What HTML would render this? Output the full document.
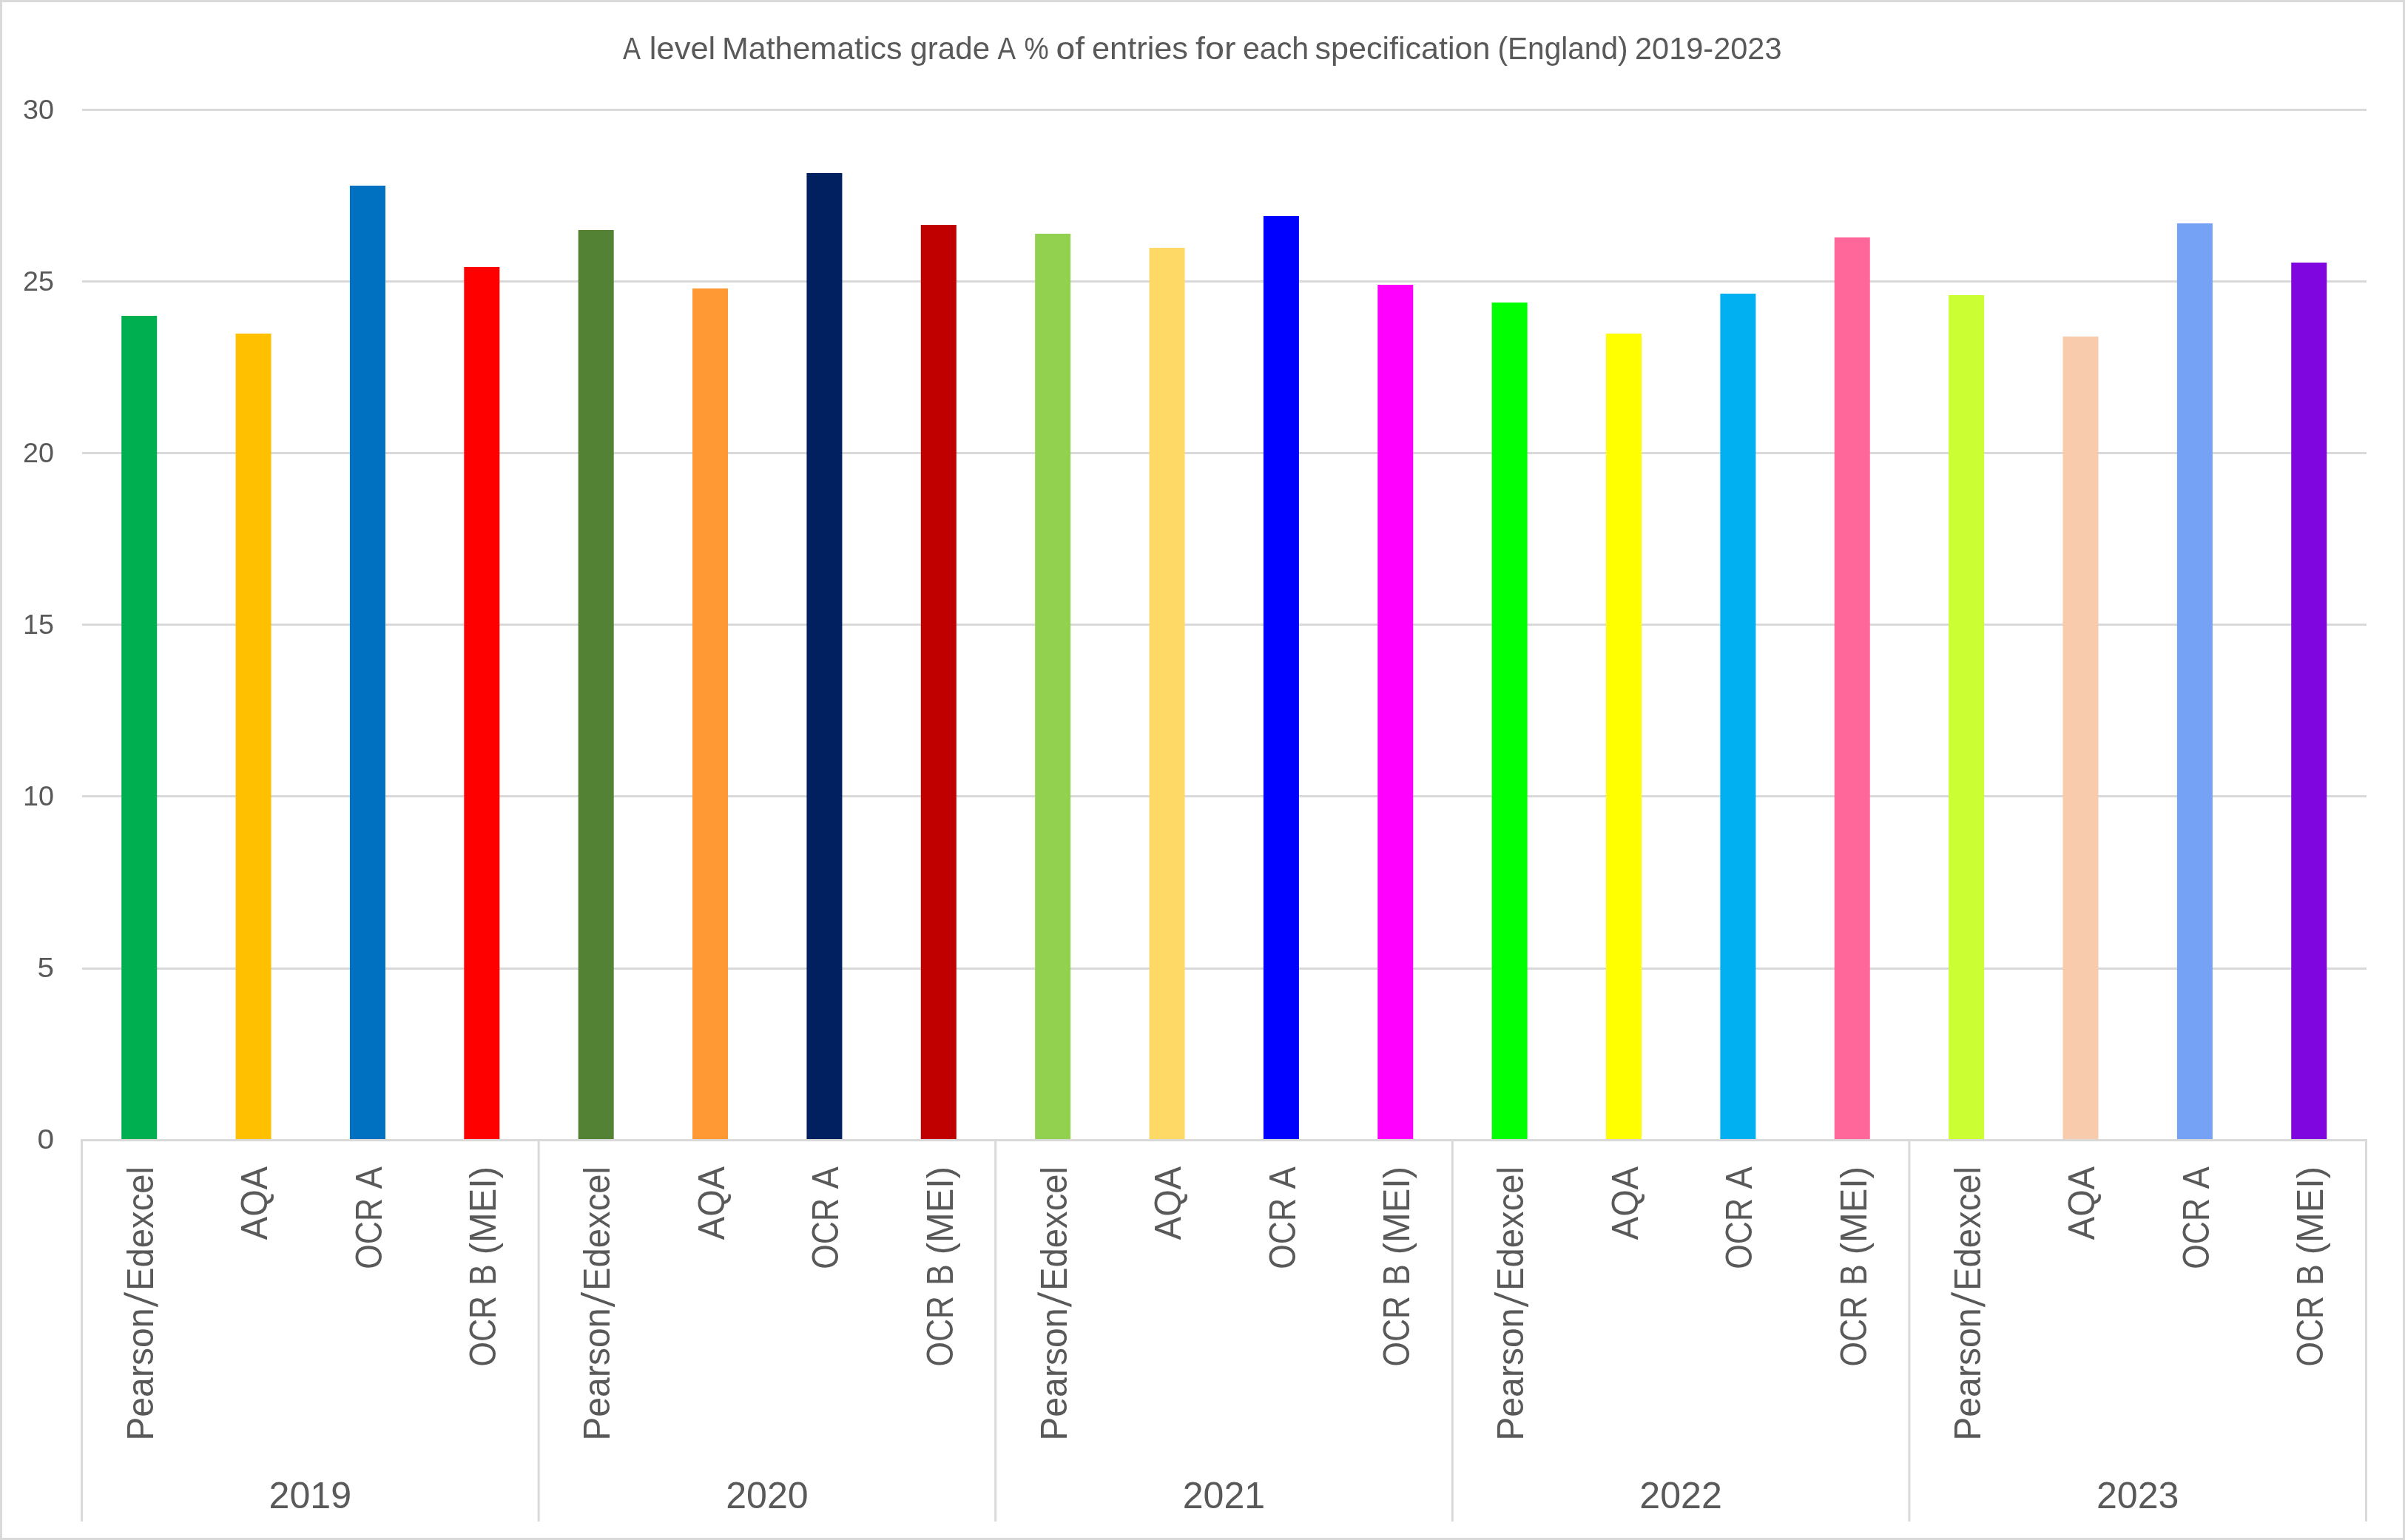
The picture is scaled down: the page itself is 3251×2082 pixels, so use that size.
<!DOCTYPE html><html><head><meta charset="utf-8"><style>html,body{margin:0;padding:0;background:#fff;overflow:hidden}svg{display:block;will-change:transform}text{font-family:"Liberation Sans",sans-serif;fill:#595959}</style></head><body>
<svg width="3251" height="2082" viewBox="0 0 3251 2082">
<rect x="0" y="0" width="3251" height="2082" fill="#fff"/>
<rect x="1.5" y="1.5" width="3248" height="2079" fill="none" stroke="#D9D9D9" stroke-width="3"/>
<rect x="111" y="147" width="3088" height="3" fill="#D9D9D9"/>
<rect x="111" y="379" width="3088" height="3" fill="#D9D9D9"/>
<rect x="111" y="611" width="3088" height="3" fill="#D9D9D9"/>
<rect x="111" y="843" width="3088" height="3" fill="#D9D9D9"/>
<rect x="111" y="1075" width="3088" height="3" fill="#D9D9D9"/>
<rect x="111" y="1308" width="3088" height="3" fill="#D9D9D9"/>
<rect x="164.20" y="427" width="48" height="1114" fill="#00B050"/>
<rect x="318.57" y="451" width="48" height="1090" fill="#FFC000"/>
<rect x="472.94" y="251" width="48" height="1290" fill="#0070C0"/>
<rect x="627.31" y="361" width="48" height="1180" fill="#FF0000"/>
<rect x="781.68" y="311" width="48" height="1230" fill="#548235"/>
<rect x="936.05" y="390" width="48" height="1151" fill="#FF9933"/>
<rect x="1090.42" y="234" width="48" height="1307" fill="#002060"/>
<rect x="1244.79" y="304" width="48" height="1237" fill="#C00000"/>
<rect x="1399.16" y="316" width="48" height="1225" fill="#92D050"/>
<rect x="1553.53" y="335" width="48" height="1206" fill="#FFD966"/>
<rect x="1707.90" y="292" width="48" height="1249" fill="#0000FF"/>
<rect x="1862.27" y="385" width="48" height="1156" fill="#FF00FF"/>
<rect x="2016.64" y="409" width="48" height="1132" fill="#00FF00"/>
<rect x="2171.01" y="451" width="48" height="1090" fill="#FFFF00"/>
<rect x="2325.38" y="397" width="48" height="1144" fill="#00B0F0"/>
<rect x="2479.75" y="321" width="48" height="1220" fill="#FF6699"/>
<rect x="2634.12" y="399" width="48" height="1142" fill="#CCFF33"/>
<rect x="2788.49" y="455" width="48" height="1086" fill="#F8CBAD"/>
<rect x="2942.86" y="302" width="48" height="1239" fill="#76A2F5"/>
<rect x="3097.23" y="355" width="48" height="1186" fill="#8006E0"/>
<rect x="109" y="1540" width="3091" height="3" fill="#D9D9D9"/>
<rect x="109.00" y="1540" width="3" height="517" fill="#D9D9D9"/>
<rect x="726.60" y="1540" width="3" height="517" fill="#D9D9D9"/>
<rect x="1344.20" y="1540" width="3" height="517" fill="#D9D9D9"/>
<rect x="1961.80" y="1540" width="3" height="517" fill="#D9D9D9"/>
<rect x="2579.40" y="1540" width="3" height="517" fill="#D9D9D9"/>
<rect x="3197.00" y="1540" width="3" height="517" fill="#D9D9D9"/>
<text x="842.00" y="79.9" font-size="42.4" textLength="24.02" lengthAdjust="spacingAndGlyphs">A</text>
<text x="877.83" y="79.9" font-size="42.4" textLength="89.39" lengthAdjust="spacingAndGlyphs">level</text>
<text x="975.95" y="79.9" font-size="42.4" textLength="243.58" lengthAdjust="spacingAndGlyphs">Mathematics</text>
<text x="1230.46" y="79.9" font-size="42.4" textLength="107.61" lengthAdjust="spacingAndGlyphs">grade</text>
<text x="1348.46" y="79.9" font-size="42.4" textLength="24.58" lengthAdjust="spacingAndGlyphs">A</text>
<text x="1384.39" y="79.9" font-size="42.4" textLength="33.24" lengthAdjust="spacingAndGlyphs">&#37;</text>
<text x="1427.41" y="79.9" font-size="42.4" textLength="38.63" lengthAdjust="spacingAndGlyphs">of</text>
<text x="1475.96" y="79.9" font-size="42.4" textLength="130.07" lengthAdjust="spacingAndGlyphs">entries</text>
<text x="1615.99" y="79.9" font-size="42.4" textLength="54.52" lengthAdjust="spacingAndGlyphs">for</text>
<text x="1679.88" y="79.9" font-size="42.4" textLength="89.26" lengthAdjust="spacingAndGlyphs">each</text>
<text x="1777.46" y="79.9" font-size="42.4" textLength="237.09" lengthAdjust="spacingAndGlyphs">specification</text>
<text x="2024.44" y="79.9" font-size="42.4" textLength="176.14" lengthAdjust="spacingAndGlyphs">(England)</text>
<text x="2209.97" y="79.9" font-size="42.4" textLength="198.59" lengthAdjust="spacingAndGlyphs">2019-2023</text>
<text x="73" y="161.20" font-size="37.5" text-anchor="end" textLength="42" lengthAdjust="spacingAndGlyphs">30</text>
<text x="73" y="393.20" font-size="37.5" text-anchor="end" textLength="42" lengthAdjust="spacingAndGlyphs">25</text>
<text x="73" y="625.20" font-size="37.5" text-anchor="end" textLength="42" lengthAdjust="spacingAndGlyphs">20</text>
<text x="73" y="857.20" font-size="37.5" text-anchor="end" textLength="42" lengthAdjust="spacingAndGlyphs">15</text>
<text x="73" y="1089.20" font-size="37.5" text-anchor="end" textLength="42" lengthAdjust="spacingAndGlyphs">10</text>
<text x="73" y="1321.20" font-size="37.5" text-anchor="end" textLength="22.6" lengthAdjust="spacingAndGlyphs">5</text>
<text x="73" y="1553.20" font-size="37.5" text-anchor="end" textLength="22.6" lengthAdjust="spacingAndGlyphs">0</text>
<text transform="translate(207.00,1576.93) rotate(-90)" font-size="50.3" text-anchor="end" textLength="168.14" lengthAdjust="spacingAndGlyphs">Edexcel</text>
<text transform="translate(207.00,1768.42) rotate(-90)" font-size="50.3" text-anchor="end" textLength="179.37" lengthAdjust="spacingAndGlyphs">Pearson</text>
<polygon points="167.50,1746.8 167.50,1750.7 213.50,1767.2 213.50,1763.3" fill="#595959"/>
<text transform="translate(361.37,1577.00) rotate(-90)" font-size="50.3" text-anchor="end" textLength="99.20" lengthAdjust="spacingAndGlyphs">AQA</text>
<text transform="translate(515.74,1577.00) rotate(-90)" font-size="50.3" text-anchor="end" textLength="30.22" lengthAdjust="spacingAndGlyphs">A</text>
<text transform="translate(515.74,1619.92) rotate(-90)" font-size="50.3" text-anchor="end" textLength="95.74" lengthAdjust="spacingAndGlyphs">OCR</text>
<text transform="translate(670.11,1576.88) rotate(-90)" font-size="50.3" text-anchor="end" textLength="119.44" lengthAdjust="spacingAndGlyphs">(MEI)</text>
<text transform="translate(670.11,1709.21) rotate(-90)" font-size="50.3" text-anchor="end" textLength="28.51" lengthAdjust="spacingAndGlyphs">B</text>
<text transform="translate(670.11,1751.95) rotate(-90)" font-size="50.3" text-anchor="end" textLength="95.49" lengthAdjust="spacingAndGlyphs">OCR</text>
<text transform="translate(824.48,1576.93) rotate(-90)" font-size="50.3" text-anchor="end" textLength="168.14" lengthAdjust="spacingAndGlyphs">Edexcel</text>
<text transform="translate(824.48,1768.42) rotate(-90)" font-size="50.3" text-anchor="end" textLength="179.37" lengthAdjust="spacingAndGlyphs">Pearson</text>
<polygon points="784.98,1746.8 784.98,1750.7 830.98,1767.2 830.98,1763.3" fill="#595959"/>
<text transform="translate(978.85,1577.00) rotate(-90)" font-size="50.3" text-anchor="end" textLength="99.20" lengthAdjust="spacingAndGlyphs">AQA</text>
<text transform="translate(1133.22,1577.00) rotate(-90)" font-size="50.3" text-anchor="end" textLength="30.22" lengthAdjust="spacingAndGlyphs">A</text>
<text transform="translate(1133.22,1619.92) rotate(-90)" font-size="50.3" text-anchor="end" textLength="95.74" lengthAdjust="spacingAndGlyphs">OCR</text>
<text transform="translate(1287.59,1576.88) rotate(-90)" font-size="50.3" text-anchor="end" textLength="119.44" lengthAdjust="spacingAndGlyphs">(MEI)</text>
<text transform="translate(1287.59,1709.21) rotate(-90)" font-size="50.3" text-anchor="end" textLength="28.51" lengthAdjust="spacingAndGlyphs">B</text>
<text transform="translate(1287.59,1751.95) rotate(-90)" font-size="50.3" text-anchor="end" textLength="95.49" lengthAdjust="spacingAndGlyphs">OCR</text>
<text transform="translate(1441.96,1576.93) rotate(-90)" font-size="50.3" text-anchor="end" textLength="168.14" lengthAdjust="spacingAndGlyphs">Edexcel</text>
<text transform="translate(1441.96,1768.42) rotate(-90)" font-size="50.3" text-anchor="end" textLength="179.37" lengthAdjust="spacingAndGlyphs">Pearson</text>
<polygon points="1402.46,1746.8 1402.46,1750.7 1448.46,1767.2 1448.46,1763.3" fill="#595959"/>
<text transform="translate(1596.33,1577.00) rotate(-90)" font-size="50.3" text-anchor="end" textLength="99.20" lengthAdjust="spacingAndGlyphs">AQA</text>
<text transform="translate(1750.70,1577.00) rotate(-90)" font-size="50.3" text-anchor="end" textLength="30.22" lengthAdjust="spacingAndGlyphs">A</text>
<text transform="translate(1750.70,1619.92) rotate(-90)" font-size="50.3" text-anchor="end" textLength="95.74" lengthAdjust="spacingAndGlyphs">OCR</text>
<text transform="translate(1905.07,1576.88) rotate(-90)" font-size="50.3" text-anchor="end" textLength="119.44" lengthAdjust="spacingAndGlyphs">(MEI)</text>
<text transform="translate(1905.07,1709.21) rotate(-90)" font-size="50.3" text-anchor="end" textLength="28.51" lengthAdjust="spacingAndGlyphs">B</text>
<text transform="translate(1905.07,1751.95) rotate(-90)" font-size="50.3" text-anchor="end" textLength="95.49" lengthAdjust="spacingAndGlyphs">OCR</text>
<text transform="translate(2059.44,1576.93) rotate(-90)" font-size="50.3" text-anchor="end" textLength="168.14" lengthAdjust="spacingAndGlyphs">Edexcel</text>
<text transform="translate(2059.44,1768.42) rotate(-90)" font-size="50.3" text-anchor="end" textLength="179.37" lengthAdjust="spacingAndGlyphs">Pearson</text>
<polygon points="2019.94,1746.8 2019.94,1750.7 2065.94,1767.2 2065.94,1763.3" fill="#595959"/>
<text transform="translate(2213.81,1577.00) rotate(-90)" font-size="50.3" text-anchor="end" textLength="99.20" lengthAdjust="spacingAndGlyphs">AQA</text>
<text transform="translate(2368.18,1577.00) rotate(-90)" font-size="50.3" text-anchor="end" textLength="30.22" lengthAdjust="spacingAndGlyphs">A</text>
<text transform="translate(2368.18,1619.92) rotate(-90)" font-size="50.3" text-anchor="end" textLength="95.74" lengthAdjust="spacingAndGlyphs">OCR</text>
<text transform="translate(2522.55,1576.88) rotate(-90)" font-size="50.3" text-anchor="end" textLength="119.44" lengthAdjust="spacingAndGlyphs">(MEI)</text>
<text transform="translate(2522.55,1709.21) rotate(-90)" font-size="50.3" text-anchor="end" textLength="28.51" lengthAdjust="spacingAndGlyphs">B</text>
<text transform="translate(2522.55,1751.95) rotate(-90)" font-size="50.3" text-anchor="end" textLength="95.49" lengthAdjust="spacingAndGlyphs">OCR</text>
<text transform="translate(2676.92,1576.93) rotate(-90)" font-size="50.3" text-anchor="end" textLength="168.14" lengthAdjust="spacingAndGlyphs">Edexcel</text>
<text transform="translate(2676.92,1768.42) rotate(-90)" font-size="50.3" text-anchor="end" textLength="179.37" lengthAdjust="spacingAndGlyphs">Pearson</text>
<polygon points="2637.42,1746.8 2637.42,1750.7 2683.42,1767.2 2683.42,1763.3" fill="#595959"/>
<text transform="translate(2831.29,1577.00) rotate(-90)" font-size="50.3" text-anchor="end" textLength="99.20" lengthAdjust="spacingAndGlyphs">AQA</text>
<text transform="translate(2985.66,1577.00) rotate(-90)" font-size="50.3" text-anchor="end" textLength="30.22" lengthAdjust="spacingAndGlyphs">A</text>
<text transform="translate(2985.66,1619.92) rotate(-90)" font-size="50.3" text-anchor="end" textLength="95.74" lengthAdjust="spacingAndGlyphs">OCR</text>
<text transform="translate(3140.03,1576.88) rotate(-90)" font-size="50.3" text-anchor="end" textLength="119.44" lengthAdjust="spacingAndGlyphs">(MEI)</text>
<text transform="translate(3140.03,1709.21) rotate(-90)" font-size="50.3" text-anchor="end" textLength="28.51" lengthAdjust="spacingAndGlyphs">B</text>
<text transform="translate(3140.03,1751.95) rotate(-90)" font-size="50.3" text-anchor="end" textLength="95.49" lengthAdjust="spacingAndGlyphs">OCR</text>
<text x="419.30" y="2039" font-size="50.5" text-anchor="middle" textLength="111.5" lengthAdjust="spacingAndGlyphs">2019</text>
<text x="1036.90" y="2039" font-size="50.5" text-anchor="middle" textLength="111.5" lengthAdjust="spacingAndGlyphs">2020</text>
<text x="1654.50" y="2039" font-size="50.5" text-anchor="middle" textLength="111.5" lengthAdjust="spacingAndGlyphs">2021</text>
<text x="2272.10" y="2039" font-size="50.5" text-anchor="middle" textLength="111.5" lengthAdjust="spacingAndGlyphs">2022</text>
<text x="2889.70" y="2039" font-size="50.5" text-anchor="middle" textLength="111.5" lengthAdjust="spacingAndGlyphs">2023</text>
</svg></body></html>
